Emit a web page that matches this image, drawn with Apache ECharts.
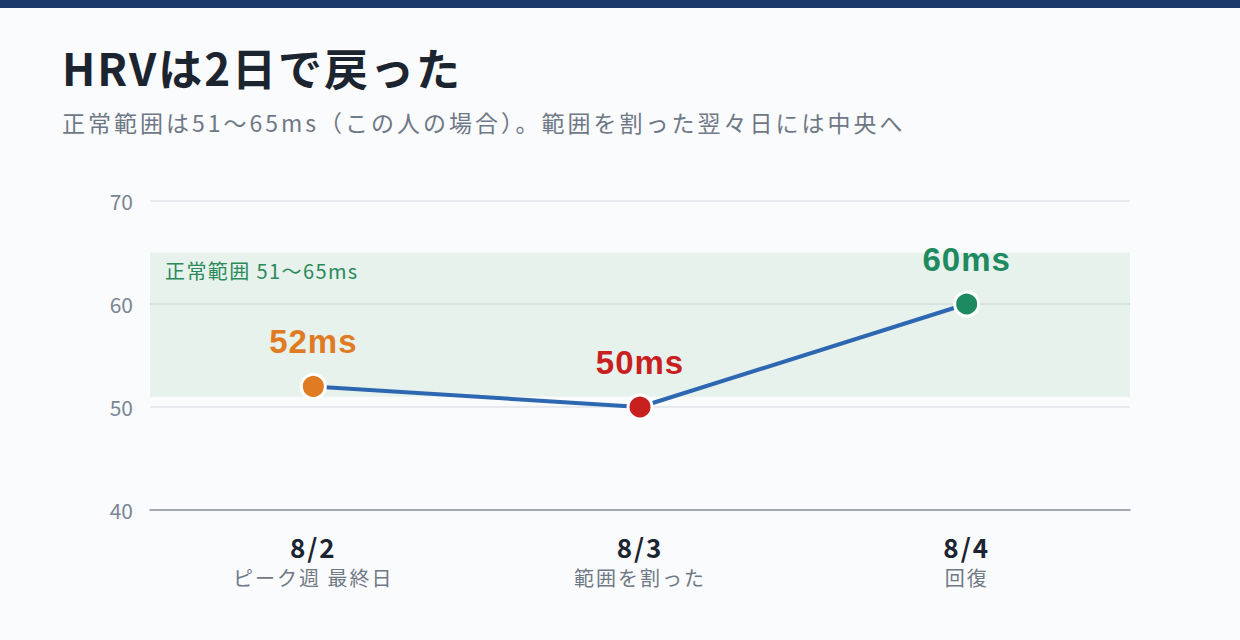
<!DOCTYPE html>
<html><head><meta charset="utf-8">
<script src="https://cdn.jsdelivr.net/npm/echarts@6/dist/echarts.min.js"></script>
<style>
html,body{margin:0;padding:0;background:#fafbfc;}
#c{width:1240px;height:640px;}
</style></head>
<body><div id="c"></div>
<script>
const dates = ['8/2','8/3','8/4'];
const notes = ['ピーク週 最終日','範囲を割った','回復'];
const hrv = [52, 50, 60];
const pointColors = ['#e07b24','#c8201f','#1e8a5f'];
const normalRange = [51, 65];
const yTicks = [40, 50, 60, 70];
const titleText = 'HRVは2日で戻った';
const subtitleText = '正常範囲は51〜65ms（この人の場合）。範囲を割った翌々日には中央へ';
const bandText = '正常範囲 51〜65ms';

const FONT = '"Noto Sans CJK JP","Noto Sans",sans-serif';
const NUMFONT = '"Liberation Sans",Arial,sans-serif';

// letter spacing per text colour (applied to the SVG text nodes)
const C_TITLE = '#1c2430', C_SUB = '#6e7886', C_NOTE = '#6f7985', C_DATE = '#1c2431', C_BAND = '#2a8a5a', C_Y = '#7a8594';
const spacing = {};
spacing[C_TITLE] = '2px'; spacing[C_SUB] = '3px'; spacing[C_NOTE] = '2px';
spacing[C_DATE] = '2px'; spacing[C_BAND] = '1.4px'; spacing[C_Y] = '0px';
pointColors.forEach(c => spacing[c] = '1px');
const css = Object.keys(spacing).map(c => '#c text[fill="'+c+'"]{letter-spacing:'+spacing[c]+';}').join('\n');
const st = document.createElement('style'); st.textContent = css; document.head.appendChild(st);

const chart = echarts.init(document.getElementById('c'), null, {renderer:'svg'});
chart.setOption({
  backgroundColor: '#fafbfc',
  animation: false,
  textStyle: {fontFamily: FONT},
  graphic: [
    {type:'rect', left:0, top:0, shape:{width:1240, height:8}, style:{fill:'#1b3a6b'}},
    {type:'text', left:62, top:45, style:{text:titleText, font:'bold 44px '+FONT, fill:C_TITLE}},
    {type:'text', left:62, top:110, style:{text:subtitleText, font:'23px '+FONT, fill:C_SUB}}
  ],
  grid: {left:150, right:110, top:201, bottom:130},
  xAxis: {
    type:'category', data: dates, boundaryGap:true,
    axisLine:{show:true, lineStyle:{color:'#8a939e', width:1.5}},
    axisTick:{show:false},
    axisLabel:{
      margin:20,
      formatter:(v,i)=>'{d|'+v+'}\n{n|'+notes[i]+'}',
      rich:{
        d:{fontSize:26, fontWeight:'bold', color:C_DATE, lineHeight:33, fontFamily:FONT},
        n:{fontSize:20, color:C_NOTE, lineHeight:28, fontFamily:FONT}
      }
    }
  },
  yAxis: {
    type:'value', min:yTicks[0], max:yTicks[yTicks.length-1], interval:10,
    axisLine:{show:false}, axisTick:{show:false},
    axisLabel:{fontSize:21, color:C_Y, margin:17, fontFamily:FONT},
    splitLine:{lineStyle:{color:'#dfe3ea', width:1.5}}
  },
  series: [{
    type:'line', data: hrv.map((v,i)=>({value:v, itemStyle:{color:pointColors[i]}, label:{color:pointColors[i]}})),
    lineStyle:{color:'#2e67b1', width:4},
    symbol:'circle', symbolSize:24,
    itemStyle:{borderColor:'#ffffff', borderWidth:3},
    label:{show:true, position:'top', distance:15, formatter:p=>p.value+'ms', fontSize:33, fontWeight:'bold', fontFamily:NUMFONT},
    markArea:{
      silent:true,
      itemStyle:{color:'rgba(46,160,80,0.09)'},
      label:{show:true, position:[15,8], formatter:bandText, color:C_BAND, fontSize:20, fontFamily:FONT},
      data:[[{yAxis:normalRange[0]},{yAxis:normalRange[1]}]]
    },
    z:3
  }]
});
</script></body></html>
